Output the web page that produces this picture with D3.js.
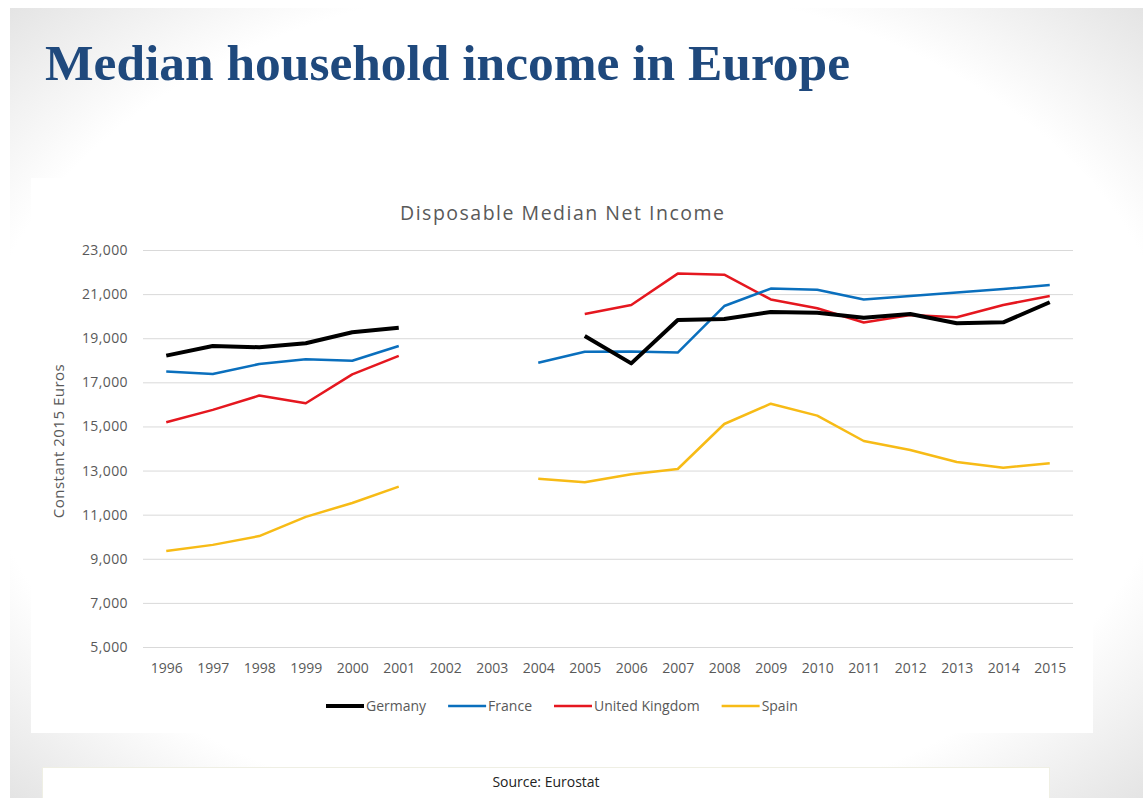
<!DOCTYPE html>
<html>
<head>
<meta charset="utf-8">
<script src="https://cdn.jsdelivr.net/npm/d3@7"></script>
<style>
  body { margin: 0; background: #fff; }
  svg { display: block; }
</style>
</head>
<body>
<script>
// values (constant 2015 euros), null = no data
const years = ["1996", "1997", "1998", "1999", "2000", "2001", "2002", "2003", "2004", "2005",
  "2006", "2007", "2008", "2009", "2010", "2011", "2012", "2013", "2014", "2015"];
const germany = [18210, 18650, 18590, 18770, 19270, 19480, null, null, null, 19100,
  17860, 19830, 19870, 20190, 20160, 19930, 20100, 19680, 19720, 20630];
const france = [17490, 17380, 17830, 18050, 17980, 18650, null, null, 17890, 18390,
  18400, 18350, 20460, 21250, 21200, 20760, 20910, 21070, 21230, 21410];
const uk = [15190, 15750, 16400, 16050, 17360, 18200, null, null, null, 20100,
  20510, 21930, 21880, 20760, 20360, 19710, 20050, 19950, 20510, 20910];
const spain = [9350, 9630, 10030, 10900, 11530, 12270, null, null, 12630, 12470,
  12830, 13070, 15110, 16030, 15490, 14340, 13930, 13390, 13130, 13330];
const seriesNames = ["Germany", "France", "United Kingdom", "Spain"];
const yTicks = [5000, 7000, 9000, 11000, 13000, 15000, 17000, 19000, 21000, 23000];

const W = 1143, H = 798;
const font = "'Open Sans', 'Liberation Sans', sans-serif";
const grey = "#595959";

window.onload = () => {
  const series = [
    { name: seriesNames[0], values: germany, color: "#000000", width: 4 },
    { name: seriesNames[1], values: france, color: "#0a6fbd", width: 2.5 },
    { name: seriesNames[2], values: uk, color: "#e5171f", width: 2.5 },
    { name: seriesNames[3], values: spain, color: "#f7bb16", width: 2.5 }
  ];

  const svg = d3.select("body").append("svg")
    .attr("width", W)
    .attr("height", H);

  // slide background, light grey only towards the corners
  const defs = svg.append("defs");
  const grad = defs.append("radialGradient")
    .attr("id", "vignette")
    .attr("cx", "50%").attr("cy", "50%").attr("r", "72%");
  grad.append("stop").attr("offset", "0.74").attr("stop-color", "#ffffff");
  grad.append("stop").attr("offset", "1").attr("stop-color", "#e2e2e2");

  svg.append("rect")
    .attr("x", 10).attr("y", 8)
    .attr("width", W - 10).attr("height", H - 8)
    .attr("fill", "url(#vignette)");

  // title
  svg.append("text")
    .attr("x", 45).attr("y", 80)
    .attr("font-family", "'Liberation Serif', 'DejaVu Serif', serif")
    .attr("font-weight", "bold")
    .attr("font-size", 51)
    .attr("fill", "#1f497d")
    .attr("textLength", 805)
    .attr("lengthAdjust", "spacingAndGlyphs")
    .text("Median household income in Europe");

  // chart box
  svg.append("rect")
    .attr("x", 31).attr("y", 178)
    .attr("width", 1062).attr("height", 555)
    .attr("fill", "#ffffff");

  const x = d3.scalePoint()
    .domain(years)
    .range([143, 1073])
    .padding(0.5);
  const y = d3.scaleLinear()
    .domain([5000, 23000])
    .range([647, 250]);

  svg.append("text")
    .attr("x", 400).attr("y", 220)
    .attr("font-family", font)
    .attr("font-size", 19.5)
    .attr("fill", grey)
    .attr("textLength", 324)
    .attr("lengthAdjust", "spacing")
    .text("Disposable Median Net Income");

  const yAxis = svg.append("g")
    .attr("transform", "translate(143,0)")
    .call(d3.axisLeft(y)
      .tickValues(yTicks)
      .tickFormat(d3.format(","))
      .tickSizeInner(-930)
      .tickSizeOuter(0)
      .tickPadding(15));
  yAxis.select(".domain").remove();
  yAxis.selectAll(".tick line").attr("stroke", "#d9d9d9").attr("stroke-width", 1);
  yAxis.selectAll(".tick text")
    .attr("font-family", font)
    .attr("font-size", 14)
    .attr("letter-spacing", 0.4)
    .attr("fill", grey);

  const xAxis = svg.append("g")
    .attr("transform", "translate(0,647)")
    .call(d3.axisBottom(x).tickSize(0).tickPadding(16));
  xAxis.select(".domain").remove();
  xAxis.selectAll(".tick text")
    .attr("font-family", font)
    .attr("font-size", 14)
    .attr("fill", grey);

  svg.append("text")
    .attr("transform", "translate(64,441) rotate(-90)")
    .attr("text-anchor", "middle")
    .attr("font-family", font)
    .attr("font-size", 15)
    .attr("letter-spacing", 0.5)
    .attr("fill", grey)
    .text("Constant 2015 Euros");

  const line = d3.line()
    .defined(d => d != null)
    .x((d, i) => x(years[i]))
    .y(d => y(d));

  const lines = svg.append("g");
  series.slice().reverse().forEach(s => {
    lines.append("path")
      .attr("d", line(s.values))
      .attr("fill", "none")
      .attr("stroke", s.color)
      .attr("stroke-width", s.width)
      .attr("stroke-linejoin", "round");
  });

  // legend
  const legend = svg.append("g").attr("transform", "translate(0,706)");
  let lx = 326;
  series.forEach(s => {
    legend.append("line")
      .attr("x1", lx).attr("x2", lx + 38)
      .attr("y1", 0).attr("y2", 0)
      .attr("stroke", s.color)
      .attr("stroke-width", s.width);
    const t = legend.append("text")
      .attr("x", lx + 40).attr("y", 5)
      .attr("font-family", font)
      .attr("font-size", 14)
      .attr("fill", grey)
      .text(s.name);
    lx += 40 + t.node().getComputedTextLength() + 22;
  });

  // source box
  svg.append("rect")
    .attr("x", 42.5).attr("y", 767.5)
    .attr("width", 1007).attr("height", 31)
    .attr("fill", "#ffffff")
    .attr("stroke", "#efefe4");
  svg.append("text")
    .attr("x", 546).attr("y", 787)
    .attr("text-anchor", "middle")
    .attr("font-family", font)
    .attr("font-size", 14)
    .attr("fill", "#222")
    .text("Source: Eurostat");
}
</script>
</body>
</html>
